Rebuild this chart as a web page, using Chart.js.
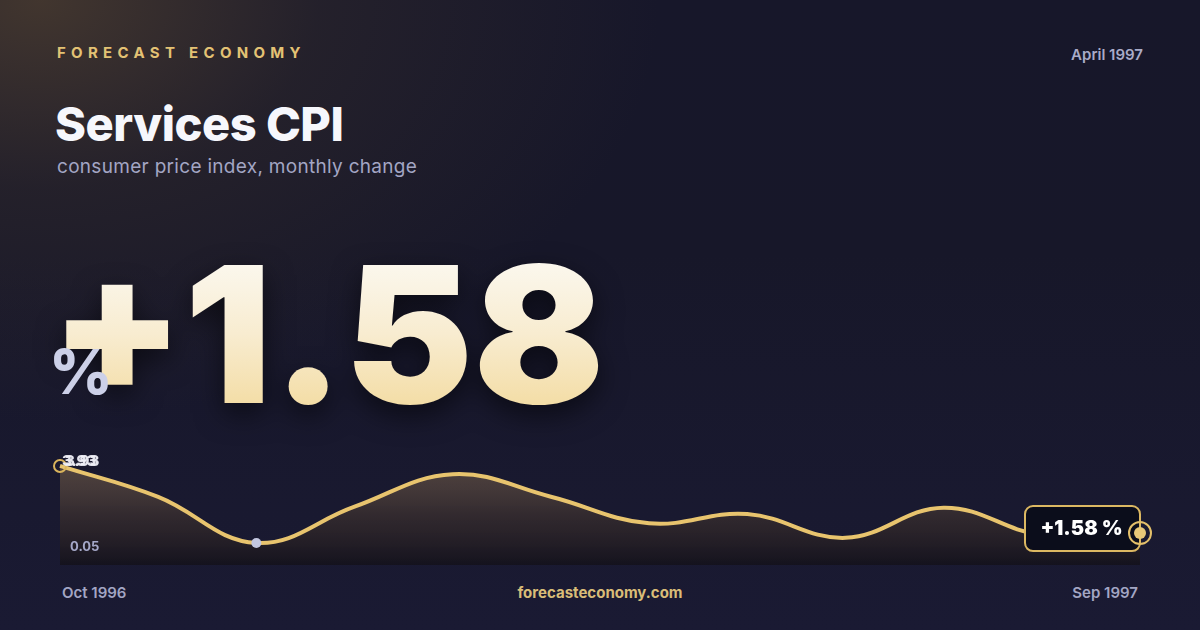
<!DOCTYPE html>
<html>
<head>
<meta charset="utf-8">
<script src="https://cdn.jsdelivr.net/npm/chart.js@4"></script>
<style>
  html, body { margin:0; padding:0; }
  body {
    width:1200px; height:630px; overflow:hidden; position:relative;
    font-family: Inter, "Noto Sans", sans-serif;
    background:
      radial-gradient(ellipse 620px 420px at 40px 0px, rgba(80,64,48,0.75) 0%, rgba(60,50,45,0.35) 45%, rgba(0,0,0,0) 100%),
      linear-gradient(180deg, #17172a 0%, #171729 40%, #1a1a33 100%);
  }
  .abs { position:absolute; white-space:nowrap; }
  #brand { left:57px; top:43px; font-size:15px; font-weight:700; letter-spacing:5.3px; color:#e3c274; }
  #date { right:57px; top:45px; font-size:15px; font-weight:600; color:#a9abc8; }
  #title { left:55px; top:95px; font-size:47px; font-weight:800; color:#f6f7fc; letter-spacing:-0.5px; }
  #sub { left:57px; top:155px; font-size:19px; font-weight:400; color:#a3a6c4; letter-spacing:0.3px; }
  #big { left:50px; top:239px; font-size:190px; font-weight:900; letter-spacing:0px; line-height:1;
         transform: scaleX(1.02); transform-origin: 0 0;
         background: linear-gradient(180deg, #fcfbf7 0%, #f8ecd0 50%, #f2d898 100%);
         -webkit-background-clip:text; background-clip:text; color:transparent;
         filter: drop-shadow(0px 10px 14px rgba(0,0,0,0.55)); }
  #pct { left:49px; top:341px; font-size:62px; font-weight:800; color:#ccd0e8; line-height:1; }
  #foot1 { left:62px; top:583px; font-size:15px; font-weight:600; color:#a3a6c4; }
  #foot2 { left:0; width:1200px; text-align:center; top:583px; font-size:15px; font-weight:700; color:#d9bd78; }
  #foot3 { right:62px; top:583px; font-size:15px; font-weight:600; color:#a3a6c4; }
  #wrap { position:absolute; left:0; top:440px; width:1200px; height:140px; }
</style>
</head>
<body>
<div class="abs" id="brand">FORECAST ECONOMY</div>
<div class="abs" id="date">April 1997</div>
<div class="abs" id="title">Services CPI</div>
<div class="abs" id="sub">consumer price index, monthly change</div>
<div class="abs" id="big">+1.58</div>
<div class="abs" id="pct">%</div>
<div class="abs" id="foot1">Oct 1996</div>
<div class="abs" id="foot2">forecasteconomy.com</div>
<div class="abs" id="foot3">Sep 1997</div>
<div id="wrap"><canvas id="c" width="1200" height="140"></canvas></div>
<script>
const months = ["Oct 1996","Nov 1996","Dec 1996","Jan 1997","Feb 1997","Mar 1997","Apr 1997","May 1997","Jun 1997","Jul 1997","Aug 1997","Sep 1997"];
const values = [3.93, 2.37, 0.05, 1.88, 3.51, 2.38, 1.04, 1.51, 0.31, 1.83, 0.45, 0.55];
const maxLabel = "3.93";
const minLabel = "0.05";
const badgeLabel = "+1.58 %";

const minIdx = values.indexOf(Math.min(...values));
const lastIdx = values.length - 1;

const overlay = {
  id: 'overlay',
  afterDatasetsDraw(chart) {
    const ctx = chart.ctx;
    const meta = chart.getDatasetMeta(0);
    const first = meta.data[0];
    const last = meta.data[lastIdx];
    const area = chart.chartArea;
    ctx.save();
    // badge
    const bw = 115, bh = 45;
    const bx = last.x - bw, by = last.y - 27;
    ctx.beginPath();
    ctx.roundRect(bx, by, bw, bh, 8);
    ctx.fillStyle = '#0b0d1b';
    ctx.fill();
    ctx.strokeStyle = '#dcb862';
    ctx.lineWidth = 2;
    ctx.stroke();
    ctx.fillStyle = '#ffffff';
    ctx.font = '900 20px Inter';
    ctx.textAlign = 'center';
    ctx.textBaseline = 'middle';
    ctx.fillText(badgeLabel, bx + bw / 2 - 1, by + bh / 2);
    // last point with ring
    ctx.beginPath();
    ctx.arc(last.x, last.y, 11, 0, Math.PI * 2);
    ctx.strokeStyle = '#e3bf6a';
    ctx.lineWidth = 2;
    ctx.stroke();
    ctx.beginPath();
    ctx.arc(last.x, last.y, 6, 0, Math.PI * 2);
    ctx.fillStyle = '#e8c878';
    ctx.fill();
    // max / min labels (drawn twice, overlapping as in the reference)
    ctx.textAlign = 'left';
    ctx.textBaseline = 'middle';
    ctx.font = '800 15px Inter';
    ctx.fillStyle = 'rgba(240,240,248,0.95)';
    ctx.fillText(maxLabel, first.x + 2, first.y - 4);
    ctx.fillText(maxLabel, first.x + 5, first.y - 4);
    ctx.font = '700 13px Inter';
    ctx.fillStyle = '#a5a8c8';
    ctx.fillText(minLabel, area.left + 10, area.bottom - 18);
    ctx.restore();
  }
};

const ctx = document.getElementById('c').getContext('2d');
new Chart(ctx, {
  type: 'line',
  data: {
    labels: months,
    datasets: [{
      data: values,
      borderColor: '#e8c46e',
      borderWidth: 4,
      tension: 0.4,
      fill: 'start',
      backgroundColor: (c) => {
        const a = c.chart.chartArea;
        if (!a) return 'rgba(0,0,0,0)';
        const g = c.chart.ctx.createLinearGradient(0, a.top, 0, a.bottom);
        g.addColorStop(0, 'rgba(125,102,80,0.6)');
        g.addColorStop(0.55, 'rgba(58,47,46,0.75)');
        g.addColorStop(1, 'rgba(20,18,28,0.9)');
        return g;
      },
      pointRadius: (c) => c.dataIndex === 0 ? 6 : (c.dataIndex === minIdx ? 5 : 0),
      pointBackgroundColor: (c) => c.dataIndex === minIdx ? '#c3c7e0' : 'rgba(0,0,0,0)',
      pointBorderColor: (c) => c.dataIndex === minIdx ? '#c3c7e0' : '#d9b45c',
      pointBorderWidth: (c) => c.dataIndex === 0 ? 2 : 0,
      pointHoverRadius: 0
    }]
  },
  options: {
    responsive: false,
    animation: false,
    devicePixelRatio: 1,
    layout: { padding: { left: 60, right: 60, top: 16, bottom: 15 } },
    plugins: { legend: { display: false }, tooltip: { enabled: false } },
    scales: {
      x: { display: false, offset: false },
      y: { display: false, min: -1.058, max: 4.43 }
    },
    clip: false
  },
  plugins: [overlay]
});
</script>
</body>
</html>
